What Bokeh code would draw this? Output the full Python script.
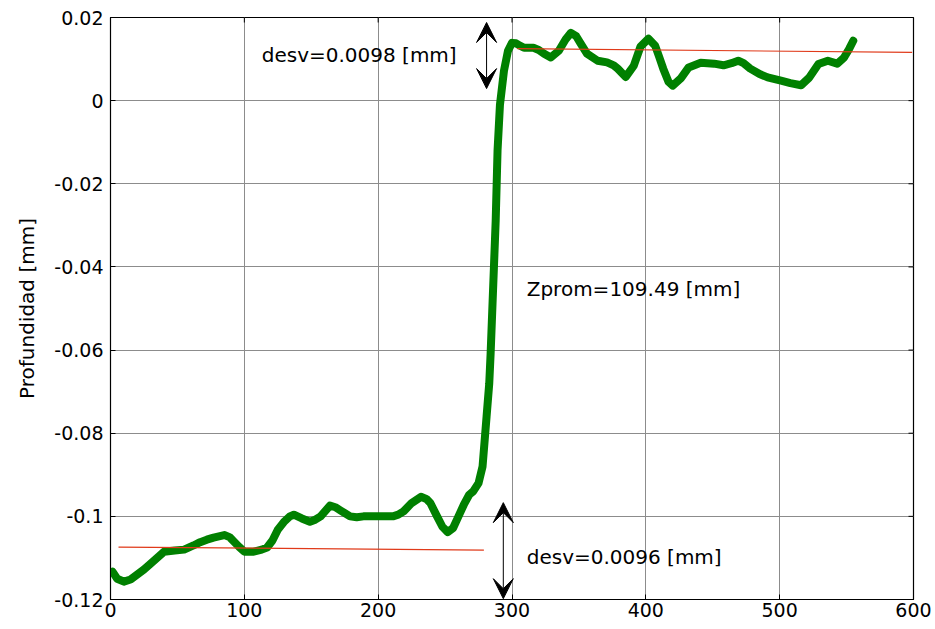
import math
from bokeh.plotting import figure
from bokeh.models import Range1d, FixedTicker, Arrow, VeeHead
from bokeh.core.properties import value
from bokeh.embed import file_html
from bokeh.resources import INLINE

# Profile data (x in samples, depth in mm)
profile_x = [1.5, 5, 10, 15, 20, 25, 32, 40, 48, 55, 62, 67, 72, 77, 85, 89, 92, 96, 100,
             107, 113, 117, 121, 125, 130, 134, 137, 143, 149, 153, 157, 164, 168, 172, 179,
             184, 189, 200, 211, 215, 219, 225, 232, 236, 239, 244, 248, 252, 256, 260, 264,
             268, 271, 275, 278, 280, 281, 283, 284, 286.5, 287.8, 289.2, 291, 294, 297, 300, 303,
             305, 309, 316, 320, 324, 329, 335, 340, 344, 348, 351, 356, 364, 371, 376, 379,
             385, 391, 396, 402, 407, 410, 413, 417, 420, 426, 432, 441, 451, 458, 464, 469,
             473, 478, 485, 491, 501, 508, 516, 522, 529, 536, 543, 548, 552, 555]
profile_y = [-0.1133, -0.1150, -0.1157, -0.1152, -0.1140, -0.1128, -0.1108, -0.1085, -0.1082,
             -0.1080, -0.1070, -0.1062, -0.1056, -0.1051, -0.1045, -0.1050, -0.1060, -0.1073,
             -0.1085, -0.1085, -0.1080, -0.1075, -0.1058, -0.1032, -0.1012, -0.1000, -0.0996,
             -0.1005, -0.1013, -0.1008, -0.1000, -0.0974, -0.0978, -0.0986, -0.1000, -0.1002,
             -0.1000, -0.1000, -0.1000, -0.0996, -0.0988, -0.0968, -0.0953, -0.0958, -0.0968,
             -0.1000, -0.1025, -0.1038, -0.1028, -0.1000, -0.0972, -0.0948, -0.0940, -0.0920,
             -0.0880, -0.0800, -0.0760, -0.0680, -0.0610, -0.0400, -0.0290, -0.0120, -0.0010,
             0.0072, 0.0120, 0.0139, 0.0138, 0.0134, 0.0127, 0.0127, 0.0122, 0.0113, 0.0104,
             0.0120, 0.0147, 0.0163, 0.0155, 0.0139, 0.0113, 0.0096, 0.0092, 0.0085, 0.0077,
             0.0057, 0.0084, 0.0130, 0.0149, 0.0132, 0.0105, 0.0077, 0.0045, 0.0036, 0.0053,
             0.0080, 0.0091, 0.0089, 0.0085, 0.0090, 0.0096, 0.0090, 0.0077, 0.0064, 0.0056,
             0.0048, 0.0042, 0.0037, 0.0055, 0.0088, 0.0096, 0.0089, 0.0103, 0.0125, 0.0144]

# Fitted reference lines
fit_low_x = [6, 279]
fit_low_y = [-0.1074, -0.1081]
fit_high_x = [304, 599]
fit_high_y = [0.0125, 0.0116]

# Annotations
ann_text = ["desv=0.0098 [mm]", "Zprom=109.49 [mm]", "desv=0.0096 [mm]"]
ann_x = [113, 311, 311]
ann_y = [0.0109, -0.0453, -0.1097]
arrow_x = [281, 293.5]
arrow_y0 = [0.0188, -0.0967]
arrow_y1 = [0.0029, -0.1198]

# Ticks
x_ticks = [0, 100, 200, 300, 400, 500, 600]
x_tick_labels = ["0", "100", "200", "300", "400", "500", "600"]
y_ticks = [0.02, 0.0, -0.02, -0.04, -0.06, -0.08, -0.1, -0.12]
y_tick_labels = ["0.02", "0", "-0.02", "-0.04", "-0.06", "-0.08", "-0.1", "-0.12"]

FONT = "DejaVu Sans"
X0, X1, Y0, Y1 = 0, 600, -0.12, 0.02

p = figure(frame_width=803, frame_height=582, output_backend="svg", toolbar_location=None,
           x_range=Range1d(X0, X1), y_range=Range1d(Y0, Y1),
           min_border_left=110, min_border_right=22, min_border_top=17, min_border_bottom=30,
           background_fill_color="white", border_fill_color="white")
p.outline_line_color = "black"
p.outline_line_width = 1.2

for ax in (p.xaxis[0], p.yaxis[0]):
    ax.major_tick_in = 5
    ax.major_tick_out = 0
    ax.minor_tick_line_color = None
    ax.major_label_text_font = FONT
    ax.major_label_text_font_size = "19px"
    ax.major_label_text_color = "black"
    ax.axis_line_color = "black"
    ax.major_tick_line_color = "black"

p.xaxis[0].ticker = FixedTicker(ticks=x_ticks)
p.xaxis[0].major_label_overrides = {t: l for t, l in zip(x_ticks, x_tick_labels)}
p.xaxis[0].major_label_standoff = 3
p.yaxis[0].ticker = FixedTicker(ticks=y_ticks)
p.yaxis[0].major_label_overrides = {t: l for t, l in zip(y_ticks, y_tick_labels)}
p.yaxis[0].major_label_standoff = 7
p.yaxis[0].axis_label = "Profundidad [mm]"
p.yaxis[0].axis_label_text_font = FONT
p.yaxis[0].axis_label_text_font_size = "20px"
p.yaxis[0].axis_label_text_font_style = "normal"
p.yaxis[0].axis_label_text_color = "black"
p.yaxis[0].axis_label_standoff = 12

p.xgrid.ticker = FixedTicker(ticks=x_ticks)
p.ygrid.ticker = FixedTicker(ticks=y_ticks)
p.grid.grid_line_color = "#8c8c8c"
p.grid.grid_line_width = 1

# inward ticks on the top and right edges of the box
p.ray(x=x_ticks, y=[Y1] * len(x_ticks), length=5, length_units="screen",
      angle=-math.pi / 2, line_color="black", line_width=1)
p.ray(x=[X1] * len(y_ticks), y=y_ticks, length=5, length_units="screen",
      angle=math.pi, line_color="black", line_width=1)

p.line(profile_x, profile_y, line_color="#008000", line_width=8,
       line_join="round", line_cap="round")
p.line(fit_low_x, fit_low_y, line_color="#e03a1a", line_width=1.2)
p.line(fit_high_x, fit_high_y, line_color="#e03a1a", line_width=1.2)

p.text(ann_x, ann_y, text=ann_text, text_font=value(FONT), text_font_size="20px",
       text_color="black", text_baseline="middle", text_align="left")

for ax_, y0, y1 in zip(arrow_x, arrow_y0, arrow_y1):
    p.add_layout(Arrow(x_start=ax_, y_start=y0, x_end=ax_, y_end=y1, line_color="black",
                       line_width=1,
                       start=VeeHead(size=20, fill_color="black", line_color="black"),
                       end=VeeHead(size=20, fill_color="black", line_color="black")))

open("out.html", "w").write(file_html(p, INLINE))
